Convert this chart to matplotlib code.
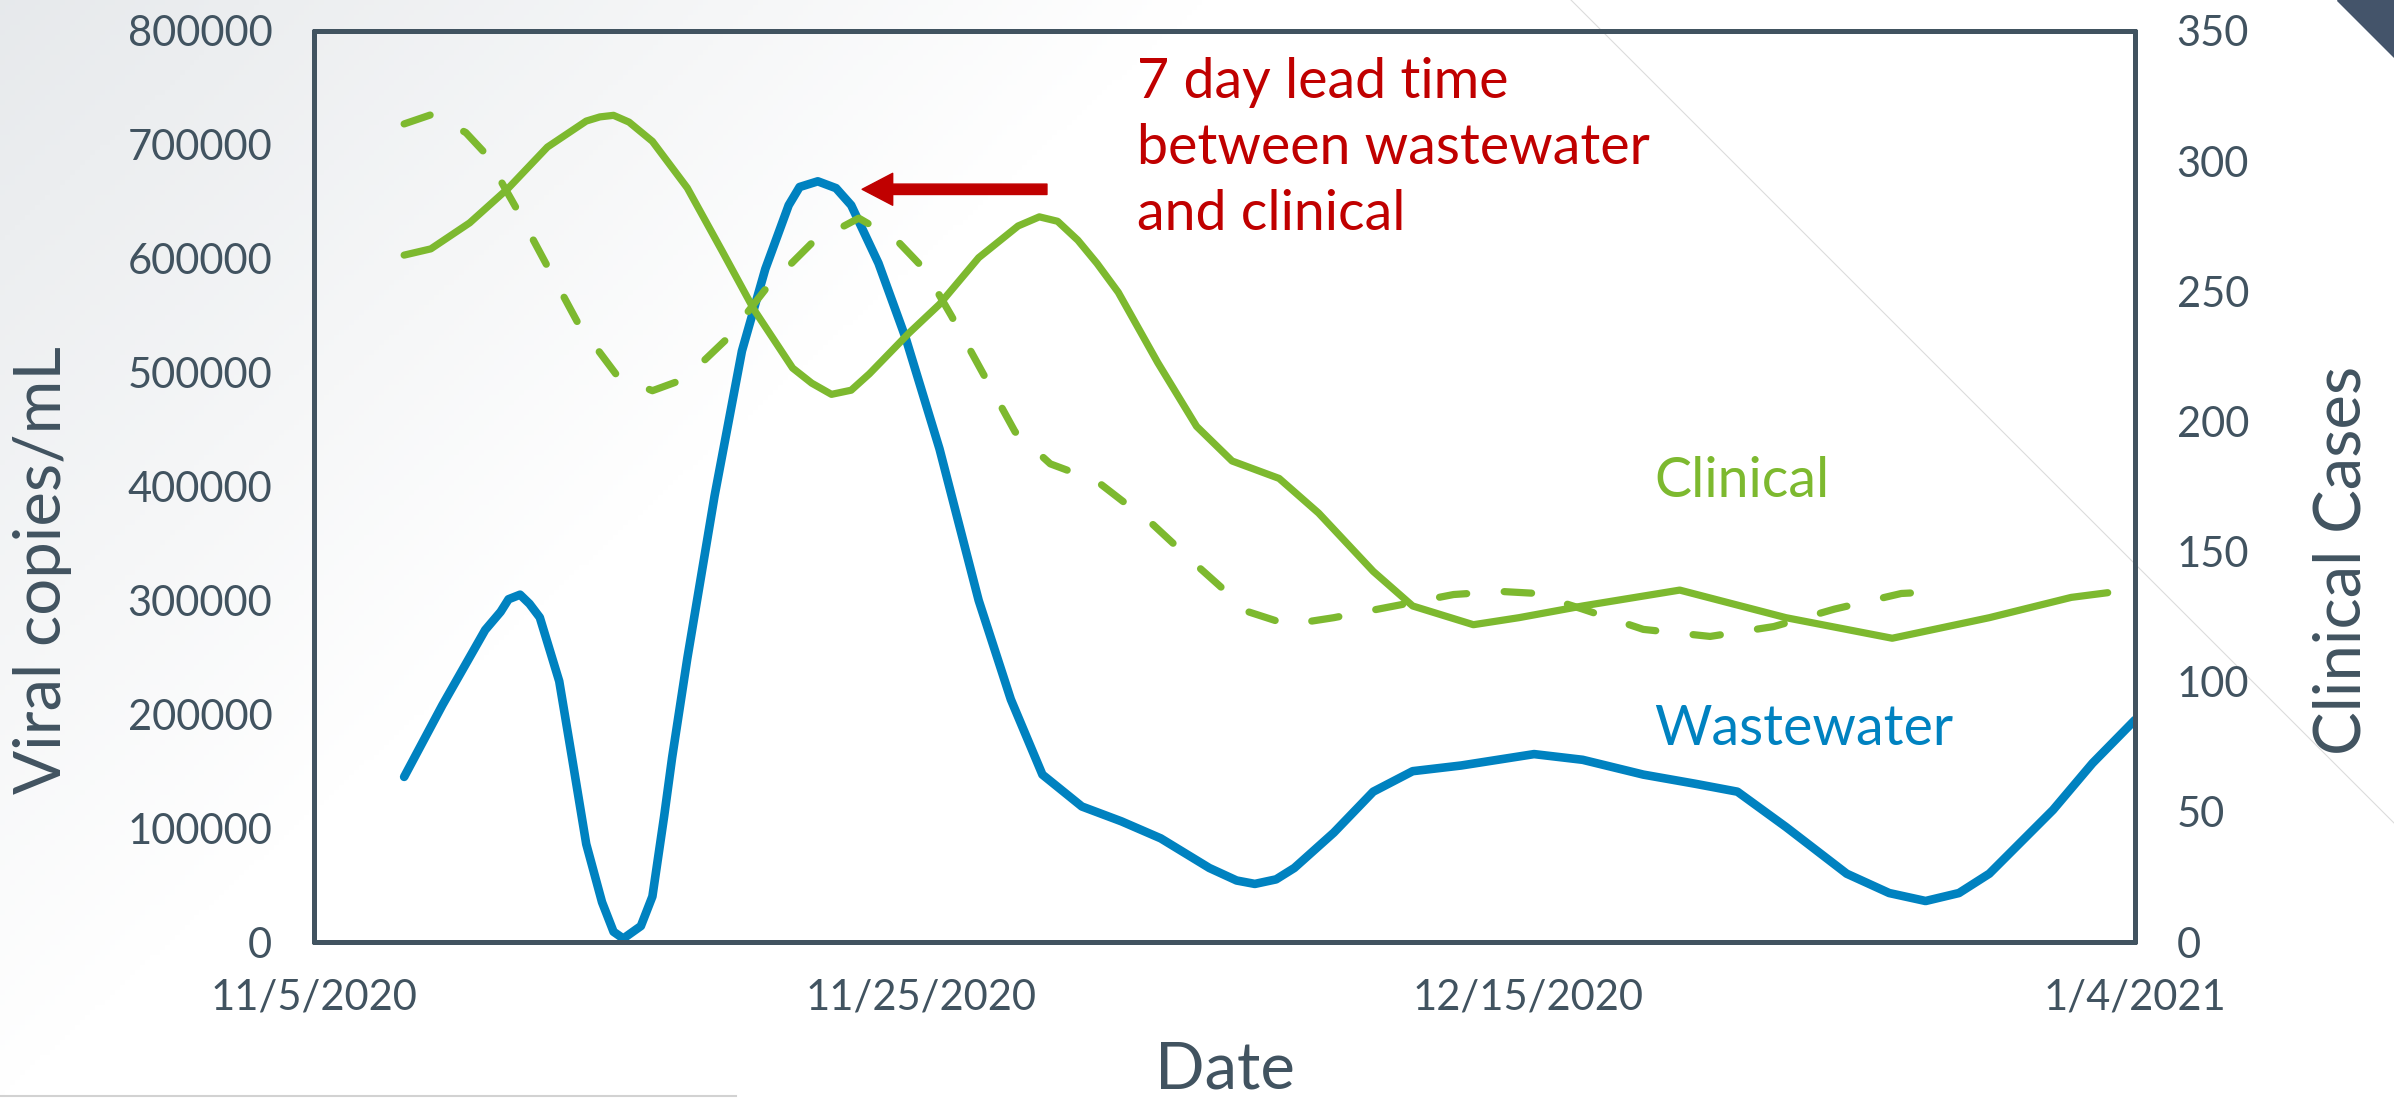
import matplotlib
matplotlib.use("Agg")
import matplotlib.pyplot as plt
import numpy as np
import pandas as pd
from matplotlib.patches import Polygon
from matplotlib.lines import Line2D

plt.rcParams["font.family"] = ["Lato", "DejaVu Sans"]

START = pd.Timestamp("2020-11-05")

# wastewater viral load (left axis), days after 11/5/2020
ww_days = [2.97, 4.23, 5.64, 6.15, 6.41, 6.79, 7.1, 7.44, 8.08, 8.5, 8.97, 9.49, 9.87,
           10.19, 10.77, 11.15, 11.54, 11.8, 12.3, 13.2, 14.1, 14.87, 15.64, 16.0,
           16.6, 17.2, 17.7, 18.6, 19.5, 20.61, 21.9, 22.96, 24.0, 25.3, 26.6, 27.9,
           29.5, 30.4, 31.0, 31.7, 32.3, 33.6, 34.9, 36.2, 37.8, 40.2, 41.8, 43.8,
           45.5, 46.9, 48.5, 50.5, 51.9, 53.1, 54.2, 55.2, 57.3, 58.6, 60.0]
ww_copies = [145000, 208000, 274000, 290000, 301000, 305000, 297000, 285000, 229000,
             162000, 86000, 35000, 9000, 3000, 14000, 40000, 111000, 162000, 249000,
             392000, 519000, 591000, 647000, 663000, 668000, 662000, 647000, 596000,
             530000, 433000, 300000, 213000, 147000, 119000, 106000, 91000, 65000,
             54000, 51000, 55000, 65000, 96000, 132000, 150000, 155000, 165000,
             160000, 147000, 139000, 132000, 101000, 60000, 43000, 36000, 43000,
             60000, 116000, 157000, 195000]

# clinical cases (right axis)
cl_days = [2.97, 3.85, 5.13, 6.41, 7.69, 8.97, 9.42, 9.87, 10.38, 11.15, 12.3, 13.46,
           14.5, 15.77, 16.4, 17.05, 17.7, 18.3, 19.6, 20.61, 21.9, 23.2, 23.9, 24.5,
           25.17, 25.8, 26.5, 27.8, 29.08, 30.25, 31.8, 33.1, 34.9, 36.2, 38.2, 39.7,
           41.8, 45.0, 48.5, 52.0, 55.2, 57.9, 59.1]
cl_cases = [263.9, 266.3, 276.3, 289.7, 305.4, 315.4, 317.0, 317.6, 315.0, 307.6,
            289.7, 265.2, 242.9, 220.5, 214.7, 210.4, 212.0, 218.3, 233.9, 245.0,
            262.9, 275.1, 278.6, 276.9, 269.6, 260.7, 249.6, 222.6, 198.1, 184.8,
            178.1, 164.8, 142.4, 129.1, 121.9, 124.6, 129.1, 135.2, 124.6, 116.7,
            124.6, 132.4, 134.2]

# clinical cases shifted 7 days (dashed)
lag_days = [2.97, 3.85, 5.0, 5.64, 6.67, 7.69, 8.72, 10.0, 11.15, 11.9, 12.8, 13.6,
            14.87, 16.4, 17.95, 19.2, 20.1, 21.0, 22.05, 23.1, 24.26, 25.8, 27.65,
            29.2, 30.8, 32.1, 33.6, 35.6, 37.55, 39.08, 40.16, 41.8, 43.8, 46.0,
            48.1, 50.1, 52.3, 52.8]
lag_cases = [314.3, 317.8, 311.0, 303.0, 281.8, 259.6, 237.3, 217.4, 211.8, 215.0,
             222.8, 231.7, 250.7, 268.5, 278.1, 269.6, 258.6, 240.6, 218.3, 196.0,
             183.7, 177.0, 160.3, 143.5, 126.8, 121.9, 124.6, 129.1, 133.5, 134.7,
             134.0, 127.9, 120.1, 117.4, 121.2, 127.9, 133.9, 134.2]

tick_dates = ["2020-11-05", "2020-11-25", "2020-12-15", "2021-01-04"]
tick_labels = ["11/5/2020", "11/25/2020", "12/15/2020", "1/4/2021"]
left_ticks = list(range(0, 800001, 100000))
right_ticks = list(range(0, 351, 50))

BLUE = "#0082c0"
GREEN = "#7db92f"
RED = "#c00000"
SLATE = "#415360"


def to_dates(days):
    return START + pd.to_timedelta(days, unit="D")


fig = plt.figure(figsize=(23.94, 11), dpi=100)

# slide background: soft grey wash in the upper left
bg = fig.add_axes([0, 0, 1, 1], zorder=-10)
h, w = 220, 480
yy, xx = np.mgrid[0:h, 0:w]
t = np.clip((xx / w * 2394 + yy / h * 1100 * 1.1) / 1200, 0, 1)
shade = np.dstack([0.905 + 0.095 * t, 0.915 + 0.085 * t, 0.925 + 0.075 * t])
bg.imshow(shade, extent=[0, 1, 0, 1], aspect="auto", origin="upper")
bg.axis("off")
bg.add_line(Line2D([1571 / 2394, 1.0], [1.0, 1 - 823 / 1100], color="#dcdcdc", lw=0.8))
bg.add_line(Line2D([0, 736 / 2394], [1 - 1096 / 1100] * 2, color="#d2d2d2", lw=1.5))
bg.add_patch(Polygon([[2337 / 2394, 1], [1, 1], [1, 1 - 57 / 1100]], closed=True,
                     color="#44546a"))
bg.set_xlim(0, 1)
bg.set_ylim(0, 1)

ax = fig.add_axes([314 / 2394, 1 - 942 / 1100, 1821 / 2394, 911 / 1100])
ax.set_facecolor("none")
ax2 = ax.twinx()

ax.plot(to_dates(ww_days), ww_copies, color=BLUE, lw=6.2,
        solid_joinstyle="round", solid_capstyle="round", zorder=3)
ax2.plot(to_dates(cl_days), cl_cases, color=GREEN, lw=5.2,
         solid_joinstyle="round", solid_capstyle="round", zorder=3)
ax2.plot(to_dates(lag_days), lag_cases, color=GREEN, lw=5.2, dashes=(3.8, 5.2),
         dash_capstyle="round", dash_joinstyle="round", zorder=3)

ax.set_xlim(pd.Timestamp("2020-11-05"), pd.Timestamp("2021-01-04"))
ax.set_ylim(0, 800000)
ax2.set_ylim(0, 350)

ax.set_xticks(pd.to_datetime(tick_dates))
ax.set_xticklabels(tick_labels)
ax.set_yticks(left_ticks)
ax.set_yticklabels([str(v) for v in left_ticks])
ax2.set_yticks(right_ticks)
ax2.set_yticklabels([str(v) for v in right_ticks])

ax.tick_params(axis="x", length=0, pad=26, labelsize=30, labelcolor=SLATE)
ax.tick_params(axis="y", length=0, pad=30, labelsize=30, labelcolor=SLATE)
ax2.tick_params(axis="y", length=0, pad=30, labelsize=30, labelcolor=SLATE)

for a in (ax, ax2):
    for sp in a.spines.values():
        sp.set_color(SLATE)
        sp.set_linewidth(3.6)
        sp.set_capstyle("round")

ax.set_xlabel("Date", fontsize=47, color=SLATE, va="center")
ax.xaxis.set_label_coords(0.5, -0.1405)
ax.set_ylabel("Viral copies/mL", fontsize=47, color=SLATE, ha="center", va="center")
ax.yaxis.set_label_coords(-0.149, 0.408)
ax2.set_ylabel("Clinical Cases", fontsize=47, color=SLATE, ha="center", va="center",
               rotation=90)
ax2.yaxis.set_label_coords(1.1137, 0.419)

# lead time annotation
ax.annotate("", xy=(START + pd.Timedelta(days=18.06), 661000),
            xytext=(START + pd.Timedelta(days=24.15), 661000),
            arrowprops=dict(arrowstyle="simple,head_length=2.2,head_width=2.3,tail_width=0.75",
                            color=RED, mutation_scale=10, shrinkA=0, shrinkB=0),
            zorder=5)
ax.text(0.452, 0.972, "7 day lead time\nbetween wastewater\nand clinical",
        transform=ax.transAxes, ha="left", va="top", fontsize=40, color=RED,
        linespacing=1.37)

ax.text(0.7359, 0.505, "Clinical", transform=ax.transAxes, ha="left", va="center",
        fontsize=40, color=GREEN)
ax.text(0.7359, 0.2338, "Wastewater", transform=ax.transAxes, ha="left", va="center",
        fontsize=40, color=BLUE)

fig.savefig("out.png", dpi=100)
